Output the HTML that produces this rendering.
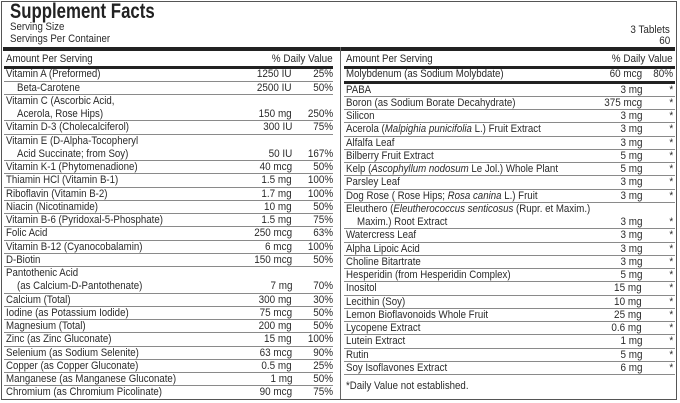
<!DOCTYPE html>
<html><head><meta charset="utf-8">
<style>
body{margin:0;width:680px;height:403px;background:#fff;font-family:"Liberation Sans",Arial,sans-serif;color:#2a2a2a;overflow:hidden;position:relative}
#frame{position:absolute;left:1px;top:1px;width:676px;height:399px;border:1px solid #555;box-sizing:border-box}
.t{position:absolute;font-size:11px;line-height:13px;white-space:nowrap}
.nm{transform:scaleX(0.88);transform-origin:left center}
.rt{transform:scaleX(0.9);transform-origin:right center}
.ln{position:absolute;height:1px;background:#8a8a8a}
.thick{position:absolute;background:#222}
</style></head><body>
<div id="frame"></div>
<div class="t" style="left:10px;top:1px;font-size:21px;line-height:22px;font-weight:bold;color:#222;transform:scaleX(0.8);transform-origin:left center">Supplement Facts</div>
<div class="t nm" style="left:10px;top:21px">Serving Size</div>
<div class="t nm" style="left:10px;top:33px">Servings Per Container</div>
<div class="t rt" style="right:10px;top:24px">3 Tablets</div>
<div class="t rt" style="right:10px;top:35px">60</div>
<div class="thick" style="left:3px;top:47px;width:672px;height:4px"></div>
<div class="thick" style="left:340px;top:47px;width:1px;height:352px;background:#666"></div>
<div id="c"></div>
<script>
const leftRows=[
["Amount Per Serving","","% Daily Value",1,"h"],
["Vitamin A (Preformed)","1250 IU","25%",1],
["   Beta-Carotene","2500 IU","50%",1],
["Vitamin C (Ascorbic Acid,|   Acerola, Rose Hips)","150 mg","250%",2],
["Vitamin D-3 (Cholecalciferol)","300 IU","75%",1],
["Vitamin E (D-Alpha-Tocopheryl|   Acid Succinate; from Soy)","50 IU","167%",2],
["Vitamin K-1 (Phytomenadione)","40 mcg","50%",1],
["Thiamin HCl (Vitamin B-1)","1.5 mg","100%",1],
["Riboflavin (Vitamin B-2)","1.7 mg","100%",1],
["Niacin (Nicotinamide)","10 mg","50%",1],
["Vitamin B-6 (Pyridoxal-5-Phosphate)","1.5 mg","75%",1],
["Folic Acid","250 mcg","63%",1],
["Vitamin B-12 (Cyanocobalamin)","6 mcg","100%",1],
["D-Biotin","150 mcg","50%",1],
["Pantothenic Acid|   (as Calcium-D-Pantothenate)","7 mg","70%",2],
["Calcium (Total)","300 mg","30%",1],
["Iodine (as Potassium Iodide)","75 mcg","50%",1],
["Magnesium (Total)","200 mg","50%",1],
["Zinc (as Zinc Gluconate)","15 mg","100%",1],
["Selenium (as Sodium Selenite)","63 mcg","90%",1],
["Copper (as Copper Gluconate)","0.5 mg","25%",1],
["Manganese (as Manganese Gluconate)","1 mg","50%",1],
["Chromium (as Chromium Picolinate)","90 mcg","75%",1,"last"]
];
const rightRows=[
["Amount Per Serving","","% Daily Value",1,"h"],
["Molybdenum (as Sodium Molybdate)","60 mcg","80%",1,"thick"],
["PABA","3 mg","*",1],
["Boron (as Sodium Borate Decahydrate)","375 mcg","*",1],
["Silicon","3 mg","*",1],
["Acerola (<i>Malpighia punicifolia</i> L.) Fruit Extract","3 mg","*",1],
["Alfalfa Leaf","3 mg","*",1],
["Bilberry Fruit Extract","5 mg","*",1],
["Kelp (<i>Ascophyllum nodosum</i> Le Jol.) Whole Plant","5 mg","*",1],
["Parsley Leaf","3 mg","*",1],
["Dog Rose ( Rose Hips; <i>Rosa canina</i> L.) Fruit","3 mg","*",1],
["Eleuthero (<i>Eleutherococcus senticosus</i> (Rupr. et Maxim.)|   Maxim.) Root Extract","3 mg","*",2],
["Watercress Leaf","3 mg","*",1],
["Alpha Lipoic Acid","3 mg","*",1],
["Choline Bitartrate","3 mg","*",1],
["Hesperidin (from Hesperidin Complex)","5 mg","*",1],
["Inositol","15 mg","*",1],
["Lecithin (Soy)","10 mg","*",1],
["Lemon Bioflavonoids Whole Fruit","25 mg","*",1],
["Lycopene Extract","0.6 mg","*",1],
["Lutein Extract","1 mg","*",1],
["Rutin","5 mg","*",1],
["Soy Isoflavones Extract","6 mg","*",1]
];
const c=document.getElementById('c');
const LH=13.25;
function slug(s){return s.replace(/<[^>]+>/g,'').toLowerCase().replace(/[^a-z0-9]+/g,'-').replace(/^-|-$/g,'').slice(0,30);}
function put(cls,css,html){const d=document.createElement('div');d.className=cls;d.style.cssText=css;if(html!==undefined)d.innerHTML=html;c.appendChild(d);return d;}
function col(rows,x0,x1,amtR,pctR){
  let y=52;
  rows.forEach(r=>{
    const lines=r[0].split('|');
    const h=r[3]*LH;
    const row=put('', 'position:absolute;left:'+x0+'px;top:'+y+'px;width:'+(x1-x0)+'px;height:'+h+'px');
    
    
    lines.forEach((l,i)=>{
      const ind=l.startsWith('   ');
      const t=put('t nm','left:'+(x0+2+(ind?11:0))+'px;top:'+(y+1+i*LH)+'px',l.trim());
      
      
    });
    const ty=y+1+(r[3]-1)*LH;
    if(r[1]){const a=put('t rt','right:'+(680-amtR)+'px;top:'+ty+'px',r[1]);
      
      }
    const p=put('t rt','right:'+(680-pctR)+'px;top:'+ty+'px',r[2]);
    
    
    y+=h;
    if(r[4]==='h'){const b=put('thick','left:'+x0+'px;top:'+(y+1)+'px;width:'+(x1-x0)+'px;height:3px');
      
      y+=2;}
    else if(r[4]==='thick'){const b=put('thick','left:'+x0+'px;top:'+(y)+'px;width:'+(x1-x0)+'px;height:3px');
      
      y+=2;}
    else if(r[4]!=='last'){const l=put('ln','left:'+x0+'px;top:'+y+'px;width:'+(x1-x0)+'px');
      
      }
  });
  return y;
}
col(leftRows,4,333,292,333);
const yEnd=col(rightRows,344,675,642,673);
const fn=put('t nm','left:346px;top:'+(yEnd+6)+'px','*Daily Value not established.');


</script>
</body></html>
